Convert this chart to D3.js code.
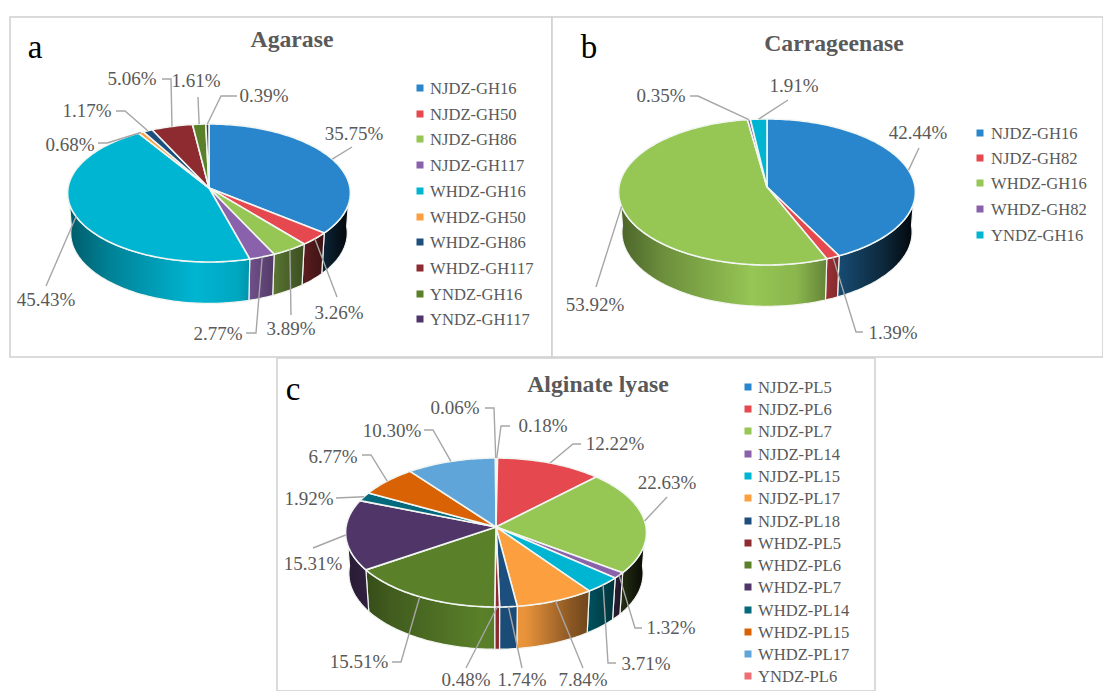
<!DOCTYPE html>
<html><head><meta charset="utf-8">
<script src="https://cdn.jsdelivr.net/npm/d3@7"></script>
<style>
html,body{margin:0;padding:0;background:#fff;overflow:hidden}
svg{display:block}
text{font-family:"Liberation Serif",serif}
</style></head><body>
<svg id="c" width="1103" height="691"></svg>
<script>
// ---- data ----
const agaraseNames=["NJDZ-GH16","NJDZ-GH50","NJDZ-GH86","NJDZ-GH117","WHDZ-GH16","WHDZ-GH50","WHDZ-GH86","WHDZ-GH117","YNDZ-GH16","YNDZ-GH117"];
const agaraseValues=[35.75,3.26,3.89,2.77,45.43,0.68,1.17,5.06,1.61,0.39];
const carrageenaseNames=["NJDZ-GH16","NJDZ-GH82","WHDZ-GH16","WHDZ-GH82","YNDZ-GH16"];
const carrageenaseValues=[42.44,1.39,53.92,0.35,1.91];
const alginateNames=["NJDZ-PL5","NJDZ-PL6","NJDZ-PL7","NJDZ-PL14","NJDZ-PL15","NJDZ-PL17","NJDZ-PL18","WHDZ-PL5","WHDZ-PL6","WHDZ-PL7","WHDZ-PL14","WHDZ-PL15","WHDZ-PL17","YNDZ-PL6"];
const alginateValues=[0.18,12.22,22.63,1.32,3.71,7.84,1.74,0.48,15.51,15.31,1.92,6.77,10.30,0.06];

// ---- styling / layout (separate from values) ----
const palette=["#2a86cc","#e5484e","#96c654","#8a62ab","#00b5d2","#fb9f3f","#1c4f7d","#8e2b30","#5a8029","#4f3568","#04697c","#d96304","#5fa5da","#ec6f74"];
const carrPalette=["#2a86cc","#e5484e","#96c654","#8a62ab","#00b5d2"];
const lightStops=[[0,.5],[.15,.72],[.45,1],[.6,.92],[.75,.55],[.9,.28],[1,.04]];

const agaraseLayout={id:"a",cx:209,cy:188,rx:141,up:64,down:74,depth:43,
 panel:[10,17,542,340],letter:["a",35,58],title:["Agarase",292,46],
 legend:{mx:420,tx:430,ys:[88,114,139,165,191,217,242,268,294,319]},
 labels:[[354,140],[339,319],[291,335],[218,340],[46,306],[70,151],[87,117],[132,85],[196,87],[264,102]],
 leaders:[[[352,147]],[[337,297]],[[291,315]],[[256,333],[246,333]],[[46,286]],[[107,143],[98,143]],[[125,111],[116,111]],[[171,79],[162,79]],[[198,97]],[[221,96],[237,96]]]};
const carrLayout={id:"b",cx:767,cy:187,rx:148,up:68,down:78,depth:43,
 panel:[552,17,551,340],letter:["b",589,58],title:["Carrageenase",834,50],
 legend:{mx:980,tx:991,ys:[133,158,183,209,235]},
 labels:[[918,139],[893,339],[595,311],[661,102],[794,92]],
 leaders:[[[919,148]],[[856,332],[863,332]],[[596,287]],[[698,96],[690,96]],[[788,100]]]};
const alginateLayout={id:"c",cx:496,cy:527,rx:150,up:69,down:80,depth:44,
 panel:[277,358,598,333],letter:["c",293,400],title:["Alginate lyase",598,391],
 legend:{mx:748,tx:758,ys:[387,409,431,454,476,498,521,543,565,587,610,632,654,676]},
 labels:[[543,432],[615,450],[667,489],[671,634],[646,670],[583,686],[522,686],[466,686],[359,668],[313,570],[309,505],[333,463],[392,437],[455,414]],
 leaders:[[[501,426],[510,426]],[[573,444],[581,444]],[[667,497]],[[635,628],[642,628]],[[608,663],[616,663]],[[583,668]],[[522,668]],[[466,668]],[[401,662],[392,662]],[[313,548]],[[336,498]],[[371,455],[362,455]],[[433,430],[424,430]],[[494,408],[485,408]]]};

const svg=d3.select("#c");
const defs=svg.append("defs");
const line=d3.line();
const GREY="#595959";

function drawPie(names,values,colors,L){
  const g=svg.append("g");
  g.append("rect").attr("x",L.panel[0]).attr("y",L.panel[1]).attr("width",L.panel[2]).attr("height",L.panel[3])
   .attr("fill","#fff").attr("stroke","#d2d2d2").attr("stroke-width",1.6);

  const k=(L.down-L.up)/(L.down+L.up);
  const ry=L.up*(1+k);
  const project=(a,z)=>{ // a: clockwise angle from top; z: 0 = top face, 1 = bottom
    const X=Math.sin(a),Y=Math.cos(a);
    const w=1+k*Y, s=1-0.022*z;
    return [L.cx+L.rx*X/w*s, L.cy-ry*Y/w*s+z*L.depth*(1-k)/w];
  };
  const samples=(a0,a1,z)=>{
    const n=Math.max(2,Math.ceil(Math.abs(a1-a0)/0.02));
    return d3.range(n+1).map(i=>project(a0+(a1-a0)*i/n,z));
  };
  const arcs=d3.pie().sort(null).value(d=>d)(values);

  // gradients shared by the side walls
  colors.forEach((c,i)=>{
    const gr=defs.append("linearGradient").attr("id",`g${L.id}${i}`).attr("gradientUnits","userSpaceOnUse")
      .attr("x1",L.cx-L.rx).attr("x2",L.cx+L.rx).attr("y1",0).attr("y2",0);
    lightStops.forEach(([o,f])=>gr.append("stop").attr("offset",o).attr("stop-color",d3.interpolateRgb("#000",c)(f)));
  });

  // side walls: only the part of each slice that faces the viewer
  const lo=Math.PI/2-0.02, hi=3*Math.PI/2+0.02;
  g.selectAll(".wall").data(arcs.filter(d=>d.endAngle>lo&&d.startAngle<hi)).join("path")
    .attr("class","wall")
    .attr("d",d=>{
      const a0=Math.max(d.startAngle,lo),a1=Math.min(d.endAngle,hi);
      return line([...samples(a0,a1,0),...samples(a1,a0,1)])+"Z";
    })
    .attr("fill",d=>`url(#g${L.id}${d.index})`)
    .attr("stroke","#f2f5f0").attr("stroke-width",1.2).attr("stroke-linejoin","round");

  // top face
  g.selectAll(".top").data(arcs).join("path")
    .attr("class","top")
    .attr("d",d=>line([[L.cx,L.cy],...samples(d.startAngle,d.endAngle,0)])+"Z")
    .attr("fill",d=>colors[d.index])
    .attr("stroke","#f2f6f2").attr("stroke-width",1.6).attr("stroke-linejoin","round");

  // leader lines, starting on the rim at each slice's middle angle
  g.selectAll(".leader").data(arcs).join("path")
    .attr("class","leader").attr("fill","none").attr("stroke","#a6a6a6").attr("stroke-width",1.4)
    .attr("d",d=>line([project((d.startAngle+d.endAngle)/2,0),...L.leaders[d.index]]));
  g.selectAll(".lab").data(arcs).join("text")
    .attr("class","lab").attr("text-anchor","middle").attr("font-size",19).attr("fill",GREY)
    .attr("x",d=>L.labels[d.index][0]).attr("y",d=>L.labels[d.index][1])
    .text(d=>d3.format(".2f")(d.value)+"%");

  // title and panel letter
  g.append("text").attr("x",L.title[1]).attr("y",L.title[2]+1).attr("text-anchor","middle")
    .attr("font-size",23.7).attr("font-weight","bold").attr("fill",GREY).text(L.title[0]);
  g.append("text").attr("x",L.letter[1]).attr("y",L.letter[2]).attr("text-anchor","middle")
    .attr("font-size",33).attr("fill","#000").text(L.letter[0]);

  // legend
  const lg=g.selectAll(".lg").data(names).join("g").attr("class","lg");
  lg.append("rect").attr("x",L.legend.mx-3.5).attr("y",(d,i)=>L.legend.ys[i]-3.5).attr("width",7).attr("height",7).attr("fill",(d,i)=>colors[i]);
  lg.append("text").attr("x",L.legend.tx).attr("y",(d,i)=>L.legend.ys[i]+5.5).attr("font-size",16.6).attr("fill",GREY).text(d=>d);
}

drawPie(agaraseNames,agaraseValues,palette,agaraseLayout);
drawPie(carrageenaseNames,carrageenaseValues,carrPalette,carrLayout);
drawPie(alginateNames,alginateValues,palette,alginateLayout);
</script>
</body></html>
